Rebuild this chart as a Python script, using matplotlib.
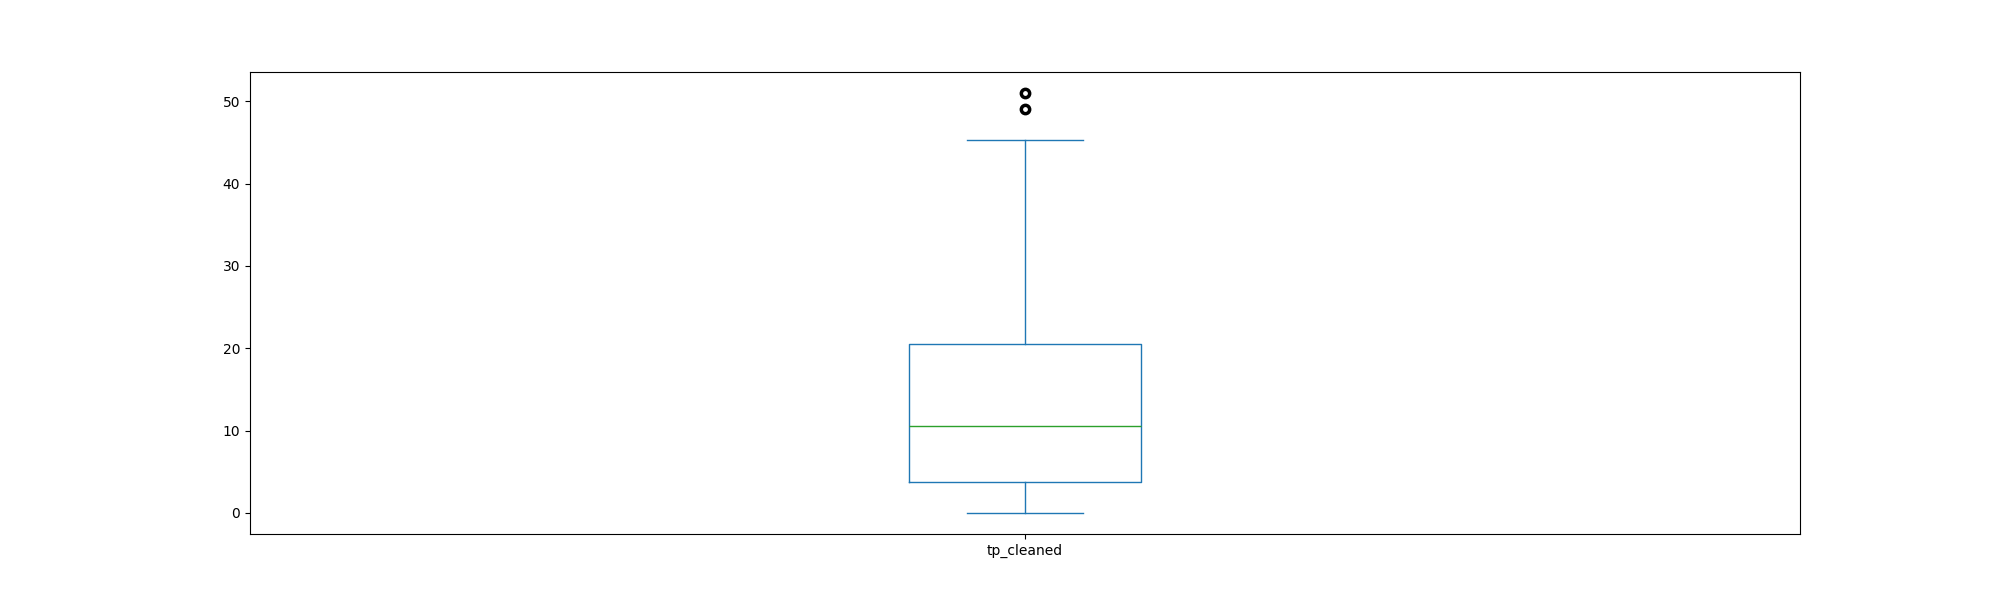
import matplotlib
matplotlib.use('Agg')
import matplotlib.pyplot as plt

label = 'tp_cleaned'
whislo = 0.0
q1 = 3.8
med = 10.6
q3 = 20.5
whishi = 45.3
fliers = [49.0, 51.0]

stats = [{'label': label, 'whislo': whislo, 'q1': q1, 'med': med,
          'q3': q3, 'whishi': whishi, 'fliers': fliers}]

fig, ax = plt.subplots(figsize=(20, 6), dpi=100)
ax.bxp(stats,
       boxprops=dict(color='C0'),
       whiskerprops=dict(color='C0'),
       capprops=dict(color='C0'),
       medianprops=dict(color='C2'),
       flierprops=dict(marker='o', markeredgecolor='black', markeredgewidth=2.5, markersize=6))
fig.savefig('out.png')
